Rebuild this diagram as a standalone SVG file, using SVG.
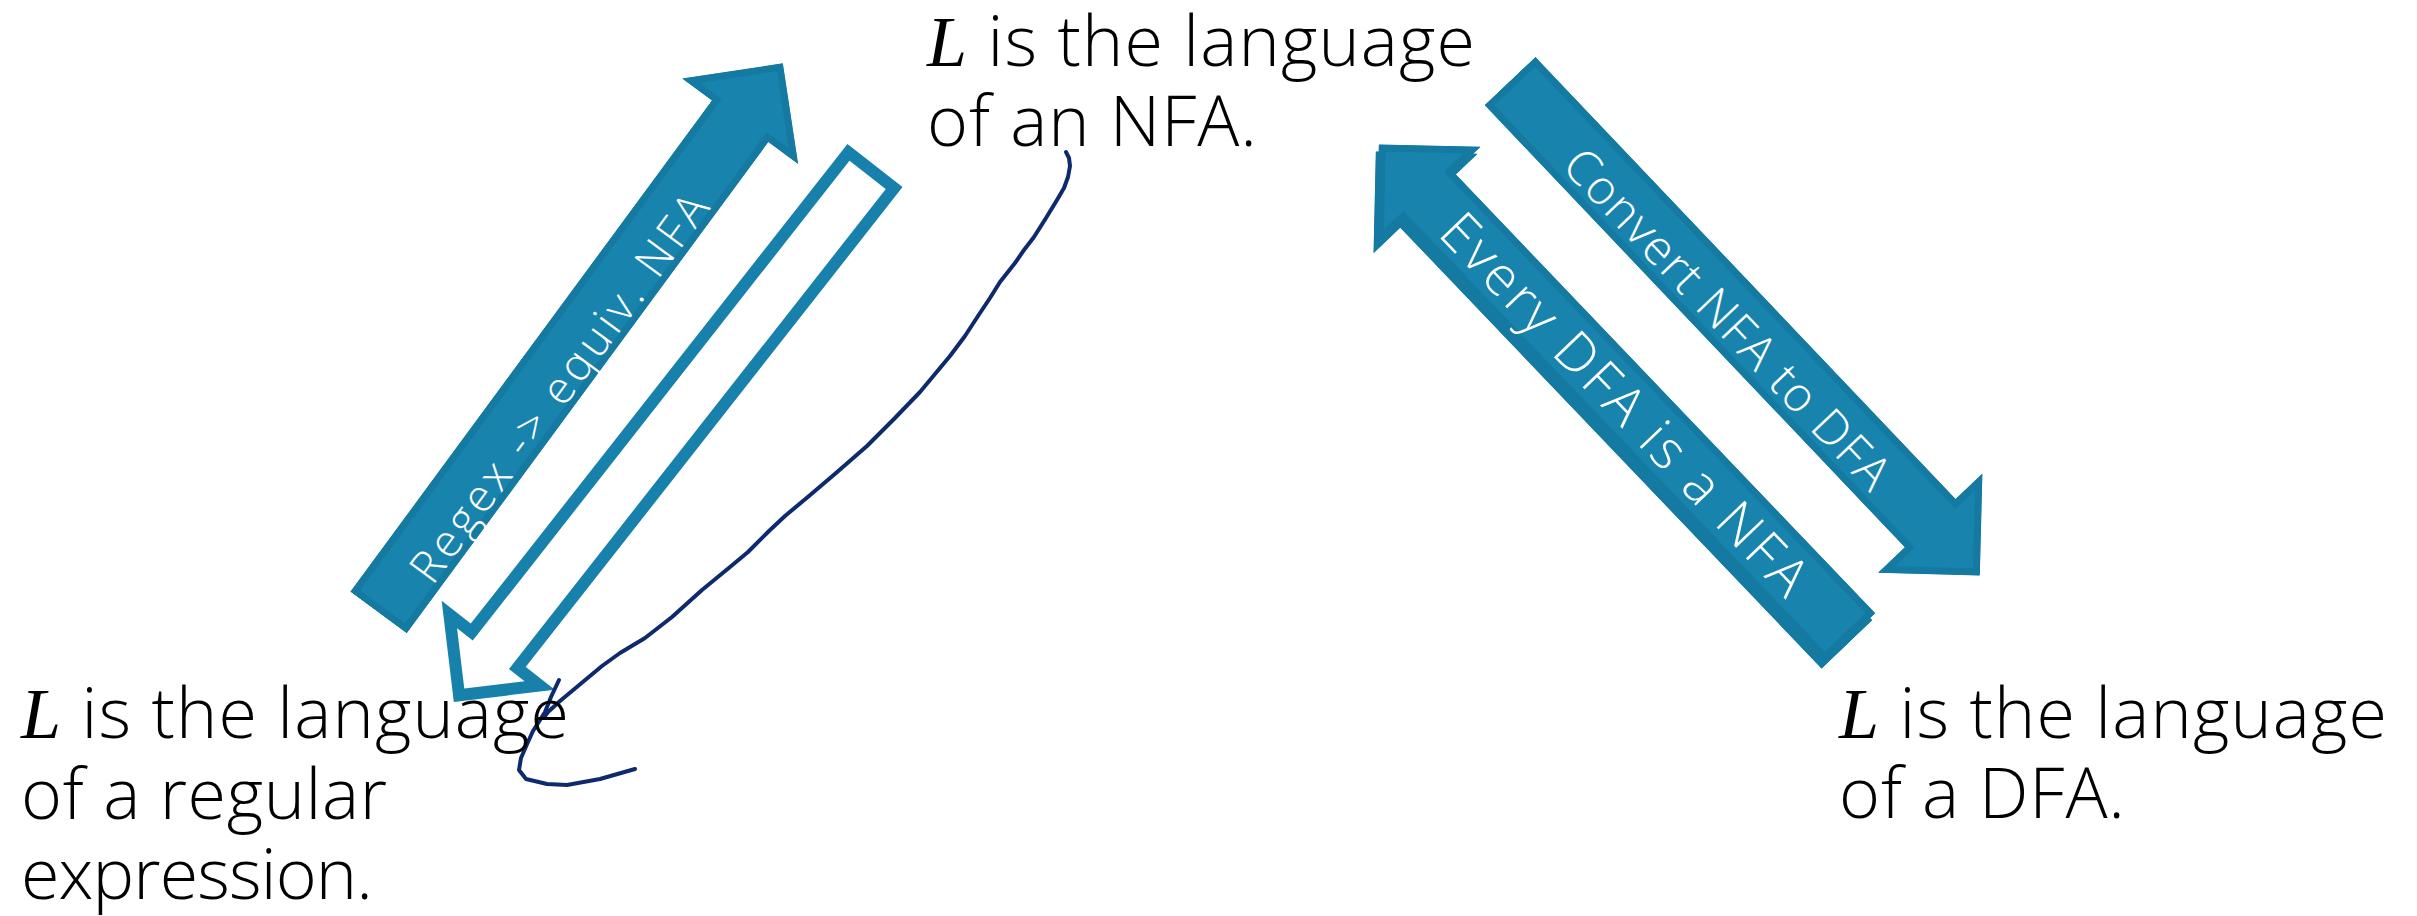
<svg xmlns="http://www.w3.org/2000/svg" width="2417" height="916" viewBox="0 0 2417 916">
<style>
.t{font-family:"Open Sans","Noto Sans","DejaVu Sans",sans-serif;font-size:70px;font-weight:300;fill:#000}
.L{font-family:"Liberation Serif","DejaVu Serif",serif;font-style:italic;font-weight:400;font-size:72px}
.lbl{font-family:"Open Sans","Noto Sans","DejaVu Sans",sans-serif;font-weight:300;fill:#fff;text-anchor:middle}
.solid{fill:#1884AE;stroke:#157AA2;stroke-width:14}
.outline{fill:#fff;stroke:#1881AB;stroke-width:12;stroke-linejoin:miter}
.ink{fill:none;stroke:#0E2A6E;stroke-width:4;stroke-linecap:round;stroke-linejoin:round}
</style>
<defs>
<polygon id="arrowShape" points="0,-35 610,-35 610,-72 682,0 610,72 610,35 0,35"/>
<clipPath id="clipArrow"><use href="#arrowShape"/></clipPath>
</defs>
<rect width="2417" height="916" fill="#fff"/>

<g id="connectors">
  <g id="arrow-regex-to-nfa" transform="translate(378.5,612.5) rotate(-53.64)">
    <use href="#arrowShape" class="solid" clip-path="url(#clipArrow)"/>
    <text class="lbl" x="288" y="28" font-size="45" textLength="470" lengthAdjust="spacing">Regex -&gt; equiv. NFA</text>
  </g>
  <g id="arrow-nfa-to-regex" transform="translate(875,165.5) rotate(128.14)">
    <polygon class="outline" points="6,-29 616,-29 616,-57.5 673.5,0 616,57.5 616,29 6,29"/>
  </g>
  <g id="arrow-nfa-to-dfa" transform="translate(1510,81) rotate(46.46)">
    <use href="#arrowShape" class="solid" clip-path="url(#clipArrow)"/>
    <text class="lbl" x="322" y="23" font-size="48" textLength="450" lengthAdjust="spacing">Convert NFA to DFA</text>
  </g>
  <g id="arrow-dfa-to-nfa">
    <g transform="translate(1847,644.5) rotate(-133.7)">
      <use href="#arrowShape" class="solid" clip-path="url(#clipArrow)"/>
    </g>
    <g transform="translate(1850,637.5) rotate(-133.7)">
      <use href="#arrowShape" class="solid" clip-path="url(#clipArrow)"/>
    </g>
    <text class="lbl" transform="translate(1611.3,417.1) rotate(46.3)" font-size="54" textLength="505" lengthAdjust="spacing">Every DFA is a NFA</text>
  </g>
  <g id="ink">
    <polyline class="ink" points="1066,152 1069,158 1070,166 1068,177 1064,188 1057,200 1046,218 1034,237 1024,250 1015,263 1000,282 990,298 978,316 965,336 950,356 935,374 920,392 894,419 867,446 836,473 809,496 785,516 769,531 748,552 730,567 702,590 672,617 645,638 620,653 602,666 578,686 560,701 548,712 545,716"/>
    <polyline class="ink" points="559,680 551,697 545,712 540,720 533,731 528,742 521,758 519,770 526,779 547,784 567,785 600,779 635,769"/>
  </g>
</g>

<g id="node-nfa">
  <text class="t" x="927" y="66" textLength="548"><tspan class="L">L</tspan> is the language</text>
  <text class="t" x="927" y="146" textLength="330">of an NFA.</text>
</g>
<g id="node-regex">
  <text class="t" x="21" y="738" textLength="548"><tspan class="L">L</tspan> is the language</text>
  <text class="t" x="21" y="819" textLength="366">of a regular</text>
  <text class="t" x="21" y="899" textLength="352">expression.</text>
</g>
<g id="node-dfa">
  <text class="t" x="1839" y="738" textLength="548"><tspan class="L">L</tspan> is the language</text>
  <text class="t" x="1839" y="818" textLength="286">of a DFA.</text>
</g>
</svg>
